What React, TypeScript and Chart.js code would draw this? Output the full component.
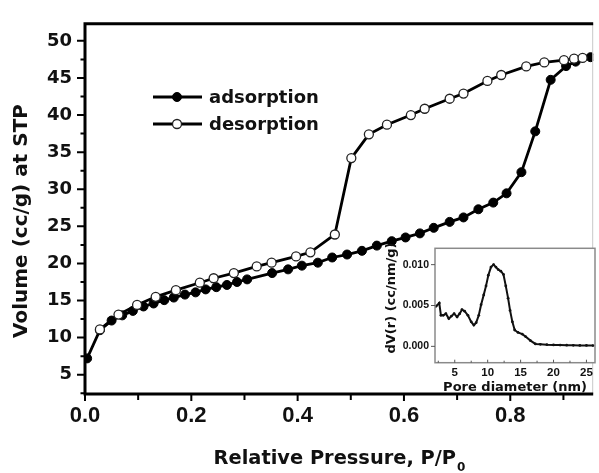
import React, { useEffect, useRef } from "react";
import { Chart, registerables } from "chart.js";

Chart.register(...registerables);

// Main isotherm data (P/P0, volume cc/g)
const adsX = [0.004, 0.028, 0.05, 0.07, 0.09, 0.11, 0.129, 0.149, 0.167, 0.188, 0.208, 0.227, 0.247, 0.267, 0.286, 0.305, 0.352, 0.382, 0.408, 0.438, 0.465, 0.493, 0.521, 0.549, 0.577, 0.603, 0.63, 0.656, 0.686, 0.712, 0.74, 0.768, 0.793, 0.821, 0.847, 0.876, 0.905, 0.923, 0.951];
const adsY = [7.2, 11.0, 12.3, 13.0, 13.6, 14.2, 14.6, 15.05, 15.4, 15.8, 16.1, 16.5, 16.8, 17.1, 17.5, 17.85, 18.7, 19.2, 19.7, 20.1, 20.8, 21.2, 21.7, 22.4, 23.0, 23.5, 24.05, 24.8, 25.6, 26.2, 27.3, 28.2, 29.45, 32.3, 37.8, 44.75, 46.6, 47.2, 47.8];
const desX = [0.028, 0.063, 0.098, 0.133, 0.171, 0.216, 0.242, 0.28, 0.323, 0.351, 0.397, 0.424, 0.47, 0.501, 0.534, 0.568, 0.613, 0.639, 0.686, 0.712, 0.757, 0.783, 0.83, 0.864, 0.901, 0.92, 0.936];
const desY = [11.1, 13.1, 14.4, 15.5, 16.4, 17.4, 18.0, 18.7, 19.6, 20.1, 20.95, 21.5, 23.9, 34.2, 37.4, 38.7, 40.0, 40.85, 42.2, 42.9, 44.6, 45.4, 46.55, 47.1, 47.4, 47.6, 47.7];

const xTicks = [0, 0.2, 0.4, 0.6, 0.8];
const xMinor = [0.1, 0.3, 0.5, 0.7, 0.9];
const yTicks = [5, 10, 15, 20, 25, 30, 35, 40, 45, 50];
const yMinor = [2.5, 7.5, 12.5, 17.5, 22.5, 27.5, 32.5, 37.5, 42.5, 47.5, 52.5];
const seriesNames = ["adsorption", "desorption"];

// Inset: pore size distribution
const pdX = [2.15, 2.65, 2.9, 3.25, 3.65, 4.1, 4.5, 4.9, 5.35, 5.75, 6.1, 6.5, 7.0, 7.5, 7.9, 8.25, 8.65, 9.0, 9.4, 9.75, 10.1, 10.5, 10.9, 11.25, 11.6, 12.0, 12.4, 12.75, 13.1, 13.4, 13.75, 14.1, 14.6, 15.25, 15.75, 16.5, 17.25, 18.0, 19.0, 20.0, 21, 22, 23, 24, 25, 26];
const pdY = [0.0049, 0.0053, 0.0038, 0.0038, 0.004, 0.0034, 0.0037, 0.004, 0.0036, 0.004, 0.0045, 0.0043, 0.0038, 0.003, 0.0026, 0.0029, 0.0038, 0.0051, 0.0063, 0.0074, 0.0087, 0.0097, 0.01, 0.0097, 0.0094, 0.0092, 0.0088, 0.0074, 0.0059, 0.0044, 0.003, 0.002, 0.0017, 0.0015, 0.0012, 0.0007, 0.0003, 0.00025, 0.0002, 0.00018, 0.00016, 0.00015, 0.00013, 0.00012, 0.00011, 0.0001];
const inXTicks = [5, 10, 15, 20, 25];
const inXMinor = [2.5, 7.5, 12.5, 17.5, 22.5];
const inYTicks = [0, 0.005, 0.01];

const DJ = "'DejaVu Sans', sans-serif";
const LS = "'Liberation Sans', Arial, sans-serif";

const toPts = (xs: number[], ys: number[]) => xs.map((x, i) => ({ x, y: ys[i] }));

export default function App() {
  const mainRef = useRef<HTMLCanvasElement>(null);
  const insetRef = useRef<HTMLCanvasElement>(null);

  useEffect(() => {
    const mainDecor = {
      id: "mainDecor",
      afterDraw(chart: any) {
        const ctx = chart.ctx;
        const { left, right, top, bottom } = chart.chartArea;
        const xs = chart.scales.x;
        const ys = chart.scales.y;
        ctx.save();
        // right faint border
        ctx.strokeStyle = "#c8c8c8";
        ctx.lineWidth = 1;
        ctx.beginPath();
        ctx.moveTo(right - 0.5, top);
        ctx.lineTo(right - 0.5, bottom);
        ctx.stroke();
        // axes
        ctx.strokeStyle = "#000";
        ctx.lineWidth = 3;
        ctx.beginPath();
        ctx.moveTo(left, top);
        ctx.lineTo(right, top);
        ctx.moveTo(left, top - 1.5);
        ctx.lineTo(left, bottom + 1.5);
        ctx.moveTo(left - 1.5, bottom);
        ctx.lineTo(right, bottom);
        ctx.stroke();
        ctx.lineWidth = 2;
        ctx.beginPath();
        yTicks.forEach((v) => {
          const p = ys.getPixelForValue(v);
          ctx.moveTo(left - 8, p);
          ctx.lineTo(left, p);
        });
        yMinor.forEach((v) => {
          if (v < ys.min || v > ys.max) return;
          const p = ys.getPixelForValue(v);
          ctx.moveTo(left - 4.5, p);
          ctx.lineTo(left, p);
        });
        xTicks.forEach((v) => {
          const p = xs.getPixelForValue(v);
          ctx.moveTo(p, bottom);
          ctx.lineTo(p, bottom + 7);
        });
        xMinor.forEach((v) => {
          if (v > xs.max) return;
          const p = xs.getPixelForValue(v);
          ctx.moveTo(p, bottom);
          ctx.lineTo(p, bottom + 6);
        });
        ctx.stroke();

        // y title
        ctx.fillStyle = "#111";
        ctx.font = `bold 20px ${DJ}`;
        ctx.textAlign = "center";
        ctx.textBaseline = "middle";
        ctx.save();
        ctx.translate(22, 221);
        ctx.rotate(-Math.PI / 2);
        ctx.fillText("Volume (cc/g) at STP", 0, 0);
        ctx.restore();

        // x title with subscript
        ctx.font = `bold 19.4px ${DJ}`;
        ctx.textAlign = "left";
        ctx.textBaseline = "alphabetic";
        const main = "Relative Pressure, P/P";
        const w = ctx.measureText(main).width;
        ctx.font = `bold 12px ${DJ}`;
        const sw = ctx.measureText("0").width;
        const start = 339 - (w + sw) / 2;
        ctx.font = `bold 19.4px ${DJ}`;
        ctx.fillText(main, start, 464);
        ctx.font = `bold 12px ${DJ}`;
        ctx.fillText("0", start + w + 1, 471);

        // legend
        const ds = chart.data.datasets;
        const rows = [
          { y: 97, d: ds[1] },
          { y: 124, d: ds[0] },
        ];
        rows.forEach((r) => {
          ctx.strokeStyle = "#000";
          ctx.lineWidth = 3;
          ctx.beginPath();
          ctx.moveTo(153, r.y);
          ctx.lineTo(202, r.y);
          ctx.stroke();
          ctx.beginPath();
          ctx.arc(177, r.y, 4.5, 0, Math.PI * 2);
          ctx.fillStyle = r.d.pointBackgroundColor;
          ctx.fill();
          ctx.lineWidth = r.d.pointBorderWidth;
          ctx.strokeStyle = r.d.pointBorderColor;
          ctx.stroke();
          ctx.fillStyle = "#111";
          ctx.font = `bold 18px ${DJ}`;
          ctx.textAlign = "left";
          ctx.textBaseline = "middle";
          ctx.fillText(r.d.label, 209, r.y + 1);
        });
        ctx.restore();
      },
    };

    const mainChart = new Chart(mainRef.current!, {
      type: "scatter",
      data: {
        datasets: [
          {
            label: seriesNames[1],
            data: toPts(desX, desY),
            showLine: true,
            borderColor: "#000",
            borderWidth: 2.8,
            pointRadius: 4.5,
            pointBackgroundColor: "#fff",
            pointBorderColor: "#222",
            pointBorderWidth: 1.3,
          },
          {
            label: seriesNames[0],
            data: toPts(adsX, adsY),
            showLine: true,
            borderColor: "#000",
            borderWidth: 2.8,
            pointRadius: 4.5,
            pointBackgroundColor: "#000",
            pointBorderColor: "#000",
            pointBorderWidth: 1,
          },
        ],
      },
      options: {
        responsive: false,
        animation: false,
        devicePixelRatio: 1,
        layout: { padding: { left: 0, top: 13, right: 1, bottom: 0 } },
        plugins: { legend: { display: false }, tooltip: { enabled: false }, title: { display: false } },
        scales: {
          x: {
            type: "linear",
            min: 0,
            max: 0.956,
            grid: { display: false, drawTicks: false },
            border: { display: false },
            afterFit: (s: any) => {
              s.height = 79;
            },
            afterBuildTicks: (s: any) => {
              s.ticks = xTicks.map((v) => ({ value: v }));
            },
            ticks: {
              autoSkip: false,
              maxRotation: 0,
              padding: 9,
              color: "#111",
              font: { family: LS, weight: "bold", size: 22 },
              callback: (v: any) => Number(v).toFixed(1),
            },
          },
          y: {
            type: "linear",
            min: 2.4,
            max: 52.3,
            grid: { display: false, drawTicks: false },
            border: { display: false },
            afterFit: (s: any) => {
              s.width = 85;
            },
            afterBuildTicks: (s: any) => {
              s.ticks = yTicks.map((v) => ({ value: v }));
            },
            ticks: {
              autoSkip: false,
              padding: 13,
              color: "#111",
              font: { family: DJ, weight: "bold", size: 18 },
              callback: (v: any) => String(v),
            },
          },
        },
      },
      plugins: [mainDecor],
    } as any);

    const insetDecor = {
      id: "insetDecor",
      beforeDatasetsDraw(chart: any) {
        const ctx = chart.ctx;
        const { left, right, top, bottom } = chart.chartArea;
        ctx.save();
        ctx.fillStyle = "#fff";
        ctx.fillRect(left, top, right - left, bottom - top);
        ctx.restore();
      },
      afterDraw(chart: any) {
        const ctx = chart.ctx;
        const { left, right, top, bottom } = chart.chartArea;
        const xs = chart.scales.x;
        const ys = chart.scales.y;
        ctx.save();
        ctx.strokeStyle = "#8a8a8a";
        ctx.lineWidth = 1.5;
        ctx.strokeRect(left, top, right - left, bottom - top);
        ctx.strokeStyle = "#555";
        ctx.lineWidth = 1;
        ctx.beginPath();
        inYTicks.forEach((v) => {
          const p = ys.getPixelForValue(v);
          ctx.moveTo(left - 4, p);
          ctx.lineTo(left, p);
        });
        inXTicks.forEach((v) => {
          const p = xs.getPixelForValue(v);
          ctx.moveTo(p, bottom);
          ctx.lineTo(p, bottom - 3);
        });
        inXMinor.forEach((v) => {
          const p = xs.getPixelForValue(v);
          ctx.moveTo(p, bottom);
          ctx.lineTo(p, bottom - 2);
        });
        ctx.stroke();
        ctx.fillStyle = "#111";
        ctx.font = `bold 13px ${DJ}`;
        ctx.textAlign = "center";
        ctx.textBaseline = "alphabetic";
        ctx.fillText("Pore diameter (nm)", (left + right) / 2, 154.5);
        ctx.save();
        ctx.translate(6.5, 62);
        ctx.rotate(-Math.PI / 2);
        ctx.textBaseline = "middle";
        ctx.fillText("dV(r) (cc/nm/g)", 0, 0);
        ctx.restore();
        ctx.restore();
      },
    };

    const insetChart = new Chart(insetRef.current!, {
      type: "scatter",
      data: {
        datasets: [
          {
            label: "PSD",
            data: toPts(pdX, pdY),
            showLine: true,
            borderColor: "#111",
            borderWidth: 2,
            pointRadius: 1.4,
            pointBackgroundColor: "#111",
            pointBorderColor: "#111",
            pointBorderWidth: 0,
          },
        ],
      },
      options: {
        responsive: false,
        animation: false,
        devicePixelRatio: 1,
        layout: { padding: { left: 0, top: 5.7, right: 2.3, bottom: 0 } },
        plugins: { legend: { display: false }, tooltip: { enabled: false } },
        scales: {
          x: {
            type: "linear",
            min: 2,
            max: 26.3,
            grid: { display: false, drawTicks: false },
            border: { display: false },
            afterFit: (s: any) => {
              s.height = 35.3;
            },
            afterBuildTicks: (s: any) => {
              s.ticks = inXTicks.map((v) => ({ value: v }));
            },
            ticks: {
              autoSkip: false,
              maxRotation: 0,
              padding: 3,
              color: "#111",
              font: { family: LS, weight: "bold", size: 11.5 },
              callback: (v: any) => String(v),
            },
          },
          y: {
            type: "linear",
            min: -0.002,
            max: 0.012,
            grid: { display: false, drawTicks: false },
            border: { display: false },
            afterFit: (s: any) => {
              s.width = 50;
            },
            afterBuildTicks: (s: any) => {
              s.ticks = inYTicks.map((v) => ({ value: v }));
            },
            ticks: {
              autoSkip: false,
              padding: 6,
              color: "#111",
              font: { family: LS, weight: "bold", size: 10.5 },
              callback: (v: any) => Number(v).toFixed(3),
            },
          },
        },
      },
      plugins: [insetDecor],
    } as any);

    return () => {
      mainChart.destroy();
      insetChart.destroy();
    };
  }, []);

  return (
    <div>
      <canvas
        ref={mainRef}
        width={599}
        height={473}
        style={{ position: "absolute", left: 0, top: 0, width: 599, height: 473 }}
      />
      <canvas
        ref={insetRef}
        width={214}
        height={162}
        style={{ position: "absolute", left: 385, top: 236, width: 214, height: 162 }}
      />
    </div>
  );
}
